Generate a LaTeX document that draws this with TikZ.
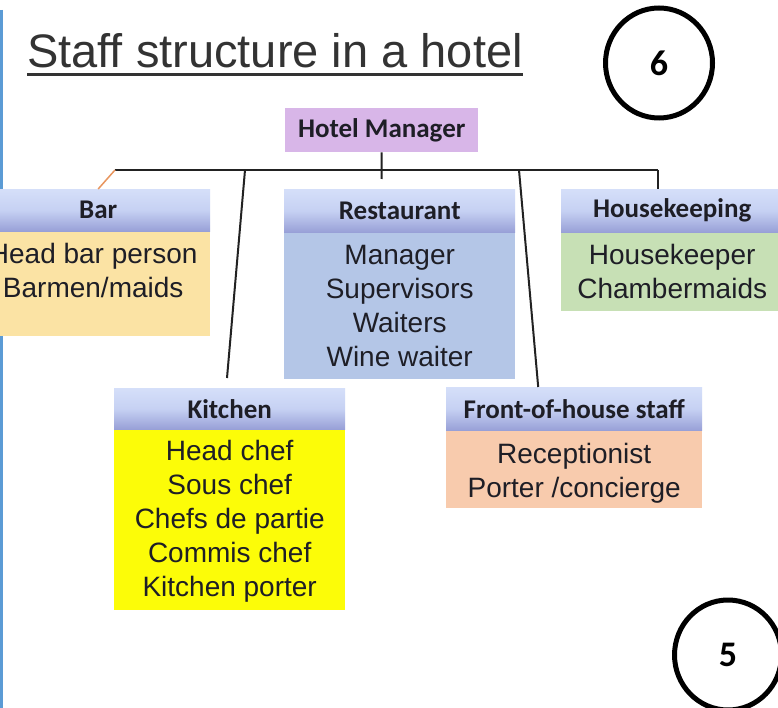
\documentclass[tikz,border=0pt]{standalone}
\usepackage{fontspec}
\setmainfont{Liberation Sans}
\newfontfamily\calfont{Carlito}
\usetikzlibrary{shapes.geometric}
\definecolor{hmc}{HTML}{D8B6E8}
\definecolor{hdrtop}{HTML}{D5DFF9}
\definecolor{hdrmid}{HTML}{C6D1F3}
\definecolor{hdrbot}{HTML}{98A0D7}
\definecolor{barc}{HTML}{FBE3A4}
\definecolor{restc}{HTML}{B4C6E7}
\definecolor{hkc}{HTML}{C7E0B5}
\definecolor{kitc}{HTML}{FCFC08}
\definecolor{fohc}{HTML}{F8CBAD}
\definecolor{txtc}{HTML}{1E1E26}
\definecolor{titlec}{HTML}{333333}
\definecolor{linec}{HTML}{222222}
\definecolor{orangec}{HTML}{E8955E}
\definecolor{bluec}{HTML}{5B9BD5}
\begin{document}
\begin{tikzpicture}[x=1pt,y=-1pt,
  titlestyle/.style={inner sep=0, anchor=base west, text=titlec, font=\fontsize{47}{56}\selectfont},
  hmbox/.style={fill=hmc, inner sep=0, anchor=north west, text=txtc, font=\calfont\bfseries\fontsize{27}{30}\selectfont},
  hdr/.style={top color=hdrtop, bottom color=hdrbot, middle color=hdrmid, draw=none, inner sep=0, anchor=north west, text=txtc, font=\calfont\bfseries\fontsize{27}{30}\selectfont},
  bodybox/.style={inner sep=0, anchor=north, text=txtc, align=center, font=\fontsize{28}{34}\selectfont},
  conn/.style={draw=linec, line width=2pt},
  ring/.style={ellipse, draw=black, line width=5pt, inner sep=0, font=\calfont\bfseries\fontsize{36}{36}\selectfont}
]
\useasboundingbox (0,0) rectangle (778,708);
\clip (0,0) rectangle (778,708);
\fill[white] (0,0) rectangle (778,708);

% left blue rule
\draw[bluec, line width=3pt] (1.5,10) -- (1.5,708);

% title
\node[titlestyle] (title) at (27,68) {Staff structure in a hotel};
\draw[titlec, line width=3pt] ([yshift=-6.5pt]title.base west) -- ([yshift=-6.5pt]title.base east);

% page circles
\node[ring, minimum width=107, minimum height=110] (c6) at (659,63) {6};
\node[ring, minimum width=107, minimum height=110] (c5) at (728,655) {5};

% Hotel manager
\node[hmbox, minimum width=193, minimum height=44] (hm) at (285,108) {Hotel Manager};

% Bar
\node[hdr, minimum width=224, minimum height=42] (barh) at (-14,189) {Bar};
\node[bodybox, fill=barc, minimum width=224, minimum height=104] (barb) at (barh.south) {};
\node[bodybox] (bart) at ([xshift=-5pt,yshift=-12pt]barb.north) {Head bar person\\Barmen/maids};

% Restaurant
\node[hdr, minimum width=231, minimum height=43] (resh) at (284,189) {Restaurant};
\node[bodybox, fill=restc, minimum width=231, minimum height=146] (resb) at (resh.south) {Manager\\Supervisors\\Waiters\\Wine waiter};

% Housekeeping
\node[hdr, minimum width=222, minimum height=43] (hkh) at (561,189) {Housekeeping};
\node[bodybox, fill=hkc, minimum width=222, minimum height=78] (hkb) at (hkh.south) {Housekeeper\\Chambermaids};

% Kitchen
\node[hdr, minimum width=231, minimum height=41] (kith) at (114,388) {Kitchen};
\node[bodybox, fill=kitc, minimum width=231, minimum height=180] (kitb) at (kith.south) {};
\node[bodybox] (kitt) at ([yshift=-11pt]kitb.north) {Head chef\\Sous chef\\Chefs de partie\\Commis chef\\Kitchen porter};

% Front-of-house
\node[hdr, minimum width=256, minimum height=43] (fohh) at (446,387) {Front-of-house staff};
\node[bodybox, fill=fohc, minimum width=256, minimum height=77] (fohb) at (fohh.south) {};
\node[bodybox] (foht) at ([yshift=-13pt]fohb.north) {Receptionist\\Porter /concierge};

% connectors
\coordinate (busL) at (115,170);
\coordinate (busR) at (658,170);
\coordinate (hmstub) at (381.5,179);
\coordinate (kbus) at (245,170);
\coordinate (ktop) at (227,378);
\coordinate (fbus) at (519,170);
\draw[conn] (busL) -- (busR);
\draw[conn] (hm.south) -- (hmstub);
\draw[conn] (busR) -- (busR |- hkh.north);
\draw[orangec, line width=1.5pt] (busL) -- (barh.north);
\draw[conn] (kbus) -- (ktop);
\draw[conn] (fbus) -- ([xshift=-36pt]fohh.north);
\end{tikzpicture}
\end{document}
